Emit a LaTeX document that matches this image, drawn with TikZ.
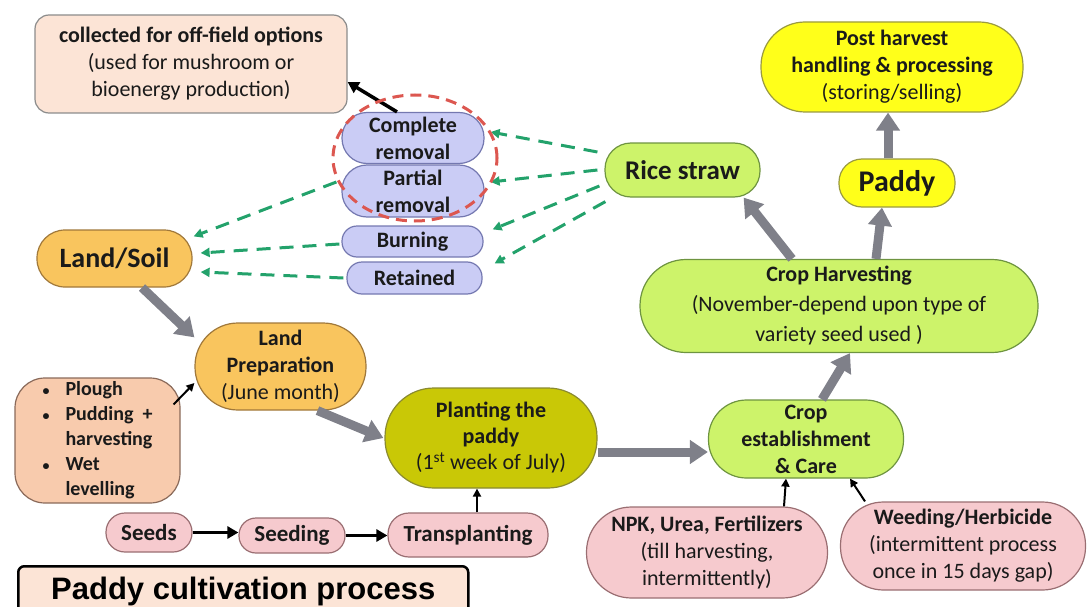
\documentclass[tikz,border=0pt]{standalone}
\usepackage{fontspec}
\setmainfont{Carlito}
\newfontfamily\titlefont{Liberation Sans}
\usetikzlibrary{shapes.misc,shapes.geometric,arrows.meta}
\definecolor{offfill}{HTML}{FCE4D6}
\definecolor{offdraw}{HTML}{8C8C8C}
\definecolor{lavfill}{HTML}{CACCF5}
\definecolor{lavdraw}{HTML}{7478B0}
\definecolor{grnfill}{HTML}{CDF36A}
\definecolor{grndraw}{HTML}{6E9440}
\definecolor{orfill}{HTML}{F9C55E}
\definecolor{ordraw}{HTML}{A0783A}
\definecolor{yelfill}{HTML}{FFFF1A}
\definecolor{yeldraw}{HTML}{9A9A40}
\definecolor{olvfill}{HTML}{C9C806}
\definecolor{olvdraw}{HTML}{8A8A30}
\definecolor{pinkfill}{HTML}{F6CACE}
\definecolor{pinkdraw}{HTML}{9A6E72}
\definecolor{pchfill}{HTML}{F8CBAD}
\definecolor{pchdraw}{HTML}{8A6A5A}
\definecolor{garrow}{HTML}{7F8089}
\definecolor{gdash}{HTML}{23A26B}
\definecolor{rdash}{HTML}{DC5750}
\definecolor{txt}{HTML}{1A1A1A}
\newcommand{\smbullet}{{\fontsize{14}{14}\selectfont\textbullet}}
\begin{document}
\begin{tikzpicture}[x=1pt,y=-1pt,
  base/.style={rectangle, align=center, line width=1.2pt, inner sep=0pt, text=txt,
    font=\fontsize{22}{27}\selectfont},
  rad/.style={rounded corners=#1},
  lav/.style={base, fill=lavfill, draw=lavdraw, font=\fontsize{22}{27}\selectfont\bfseries},
  grn/.style={base, fill=grnfill, draw=grndraw},
  orn/.style={base, fill=orfill, draw=ordraw},
  yel/.style={base, fill=yelfill, draw=yeldraw},
  olv/.style={base, fill=olvfill, draw=olvdraw},
  pnk/.style={base, fill=pinkfill, draw=pinkdraw},
  pch/.style={base, fill=pchfill, draw=pchdraw},
  bigarrow/.style={draw=garrow, line width=9pt, -{Triangle[width=23pt,length=18pt]}},
  blk/.style={draw=black, line width=3.5pt, -{Triangle[width=12pt,length=11pt]}},
  thin/.style={draw=black, line width=2pt, -{Triangle[width=8pt,length=8pt]}},
  gdashed/.style={draw=gdash, line width=3pt, dash pattern=on 14pt off 9pt,
    -{Triangle[width=9pt,length=9pt]}}
]
\useasboundingbox (0,0) rectangle (1091,607);
\clip (0,0) rectangle (1091,607);

% nodes
\node[base, fill=offfill, draw=offdraw, rad=14pt, minimum width=312pt, minimum height=98pt] (off) at (191,64)
  {\textbf{collected for off-field options}\\(used for mushroom or\\bioenergy production)};
\node[lav, rad=25pt, minimum width=142pt, minimum height=51pt] (comp) at (413,138) {Complete\\removal};
\node[lav, rad=25pt, minimum width=142pt, minimum height=52pt] (part) at (413,191) {Partial\\removal};
\node[lav, rad=15pt, minimum width=141pt, minimum height=31pt] (burn) at (412.5,241.5) {Burning};
\node[lav, rad=15pt, minimum width=135pt, minimum height=32pt] (ret) at (414.5,278) {Retained};

\node[orn, rad=28pt, minimum width=155pt, minimum height=57pt, font=\fontsize{28}{32}\selectfont\bfseries] (land) at (114.5,258.5) {Land/Soil};
\node[grn, rad=26pt, minimum width=155pt, minimum height=54pt, font=\fontsize{27}{32}\selectfont\bfseries] (straw) at (682.5,170) {Rice straw};
\node[yel, rad=44pt, minimum width=262pt, minimum height=90pt] (post) at (892,67)
  {\textbf{Post harvest}\\\textbf{handling \& processing}\\(storing/selling)};
\node[yel, rad=23pt, minimum width=116pt, minimum height=48pt, font=\fontsize{30}{34}\selectfont\bfseries] (paddy) at (897,183) {Paddy};
\node[grn, rad=46pt, minimum width=398pt, minimum height=93pt, font=\fontsize{22}{30}\selectfont] (harv) at (839,306)
  {\textbf{Crop Harvesting}\\(November-depend upon type of\\variety seed used )};
\node[orn, rad=43pt, minimum width=171pt, minimum height=87pt] (prep) at (280.5,366.5)
  {\textbf{Land}\\\textbf{Preparation}\\(June month)};
\node[pch, rad=30pt, minimum width=165pt, minimum height=125pt, font=\fontsize{20}{25}\selectfont\bfseries] (bul) at (97.5,440.5)
  {\begin{tabular}{@{}l@{\hspace{16pt}}l@{}}\smbullet & Plough\\ \smbullet & Pudding\ \ +\\ & harvesting\\ \smbullet & Wet\\ & levelling\end{tabular}};
\node[olv, rad=49pt, minimum width=212pt, minimum height=100pt, font=\fontsize{22}{26}\selectfont] (plant) at (491,438)
  {\textbf{Planting the}\\\textbf{paddy}\\(1\textsuperscript{st} week of July)};
\node[grn, rad=38pt, minimum width=195pt, minimum height=78pt, font=\fontsize{22}{27}\selectfont\bfseries] (est) at (806,439)
  {Crop\\establishment\\\& Care};
\node[pnk, rad=19pt, minimum width=86pt, minimum height=39pt, font=\fontsize{23}{27}\selectfont\bfseries] (seeds) at (149,532.5) {Seeds};
\node[pnk, rad=17pt, minimum width=106pt, minimum height=35pt, font=\fontsize{23}{27}\selectfont\bfseries] (seeding) at (292,535.5) {Seeding};
\node[pnk, rad=21pt, minimum width=160pt, minimum height=44pt, font=\fontsize{23}{27}\selectfont\bfseries] (trans) at (468,535) {Transplanting};
\node[pnk, rad=45pt, minimum width=241pt, minimum height=91pt] (npk) at (707,552.5)
  {\textbf{NPK, Urea, Fertilizers}\\(till harvesting,\\intermittently)};
\node[pnk, rad=43pt, minimum width=245pt, minimum height=88pt] (weed) at (963,546)
  {\textbf{Weeding/Herbicide}\\(intermittent process\\once in 15 days gap)};
\node[rectangle, rounded corners=6pt, draw=black, line width=2.5pt, fill=offfill, anchor=north west,
  minimum width=450pt, inner xsep=0pt, inner ysep=4pt, text height=29pt, text depth=23pt,
  font=\titlefont\bfseries\fontsize{31}{36}\selectfont] (title) at (17,565) {Paddy cultivation process};

% thick grey process arrows
\draw[bigarrow] ([xshift=27.5pt]land.south) -- ([yshift=-15pt]prep.north west);
\draw[bigarrow] ([xshift=37pt]prep.south) -- ([xshift=-1pt]plant.west);
\draw[bigarrow] ([yshift=-14pt]plant.east) -- ([yshift=-13pt]est.west);
\draw[bigarrow] ([xshift=16pt]est.north) -- ([xshift=11pt]harv.south);
\draw[bigarrow] ([xshift=-47pt]harv.north) -- ([xshift=-17pt]straw.south east);
\draw[bigarrow] ([xshift=37pt]harv.north) -- ([xshift=-15pt]paddy.south);
\draw[bigarrow] ([xshift=-9pt]paddy.north) -- ([xshift=-4pt]post.south);

% black arrows
\draw[blk] ([xshift=-16pt]comp.north) -- ([yshift=-18pt]off.east);
\draw[thin] ([xshift=-7pt,yshift=-27pt]bul.north east) -- ([yshift=-16.5pt]prep.west);
\draw[blk] (seeds.east) -- (seeds.east -| seeding.west);
\draw[blk] (seeding.east) -- (seeding.east -| trans.west);
\draw[thin] ([xshift=9pt]trans.north) -- ([xshift=9pt]trans.north |- plant.south);
\draw[thin] ([xshift=77pt]npk.north) -- ([xshift=-20pt]est.south);
\draw[thin] ([xshift=-98pt]weed.north) -- ([xshift=44pt]est.south);

% green dashed arrows
\draw[gdashed] ([xshift=-7pt,yshift=18pt]straw.west) -- ([xshift=6pt,yshift=6pt]comp.east);
\draw[gdashed] ([xshift=-7pt]straw.west) -- ([xshift=6pt,yshift=9pt]part.east);
\draw[gdashed] ([xshift=-5pt,yshift=-16pt]straw.west) -- ([xshift=9pt,yshift=-4pt]burn.north east);
\draw[gdashed] ([xshift=1pt,yshift=-4pt]straw.south west) -- ([xshift=12pt,yshift=-2pt]ret.north east);
\draw[gdashed] ([xshift=-5pt,yshift=9pt]part.west) -- ([xshift=1pt,yshift=-7pt]land.north east);
\draw[gdashed] ([xshift=-2pt,yshift=-2.5pt]burn.west) -- ([xshift=8pt,yshift=5.5pt]land.east);
\draw[gdashed] ([xshift=-3pt]ret.west) -- ([xshift=8pt,yshift=-13.5pt]land.east);

% red dashed ellipse
\node[ellipse, draw=rdash, line width=3pt, dash pattern=on 11pt off 7pt,
  minimum width=164pt, minimum height=126pt, inner sep=0pt] (ring) at (415,158) {};
\end{tikzpicture}
\end{document}
